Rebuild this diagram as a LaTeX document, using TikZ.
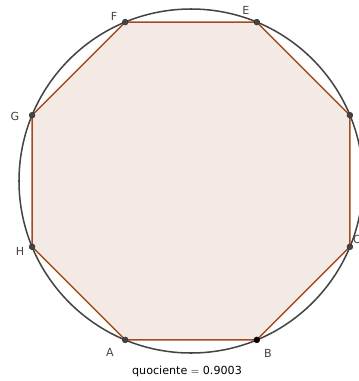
\documentclass[tikz,border=0pt]{standalone}
\usepackage{fontspec}
\setmainfont{DejaVu Sans}
\definecolor{octline}{HTML}{A34A1E}
\definecolor{octfill}{HTML}{F4EAE5}
\definecolor{ggray}{HTML}{444444}
\begin{document}
\begin{tikzpicture}[x=0.03cm,y=-0.03cm,vertex/.style={circle,fill=ggray,draw=ggray!70!black,inner sep=0pt,minimum size=5pt},lbl/.style={text=ggray,font=\fontsize{9.5}{11}\selectfont,inner sep=0pt},side/.style={draw=octline,line width=1.2pt}]
\useasboundingbox (0,0) rectangle (359,381);
\coordinate (A) at (125.2,339.9);
\coordinate (B) at (256.8,339.9);
\coordinate (C) at (349.9,246.8);
\coordinate (D) at (349.9,115.2);
\coordinate (E) at (256.8,22.1);
\coordinate (F) at (125.2,22.1);
\coordinate (G) at (32.1,115.2);
\coordinate (H) at (32.1,246.8);
\coordinate (M) at (191,181);
\fill[octfill] (A) -- (B) -- (C) -- (D) -- (E) -- (F) -- (G) -- (H) -- cycle;
\draw[ggray,line width=1.3pt] (M) circle (172);
\draw[side] (A) -- (B) -- (C) -- (D) -- (E) -- (F) -- (G) -- (H) -- cycle;
\foreach \v in {A,C,D,E,F,G,H} \node[vertex] (p\v) at (\v) {};
\node[vertex,fill=black,draw=black] (pB) at (B) {};
\node[lbl] (lA) at (110,352) {A};
\node[lbl] (lB) at (268,353) {B};
\node[lbl] (lC) at (357,239) {C};
\node[lbl] (lE) at (246,10) {E};
\node[lbl] (lF) at (114,16) {F};
\node[lbl] (lG) at (15,116) {G};
\node[lbl] (lH) at (20,251) {H};
\node[lbl,text=black] (q) at (187,371) {quociente $=$ 0.9003};
\end{tikzpicture}
\end{document}
